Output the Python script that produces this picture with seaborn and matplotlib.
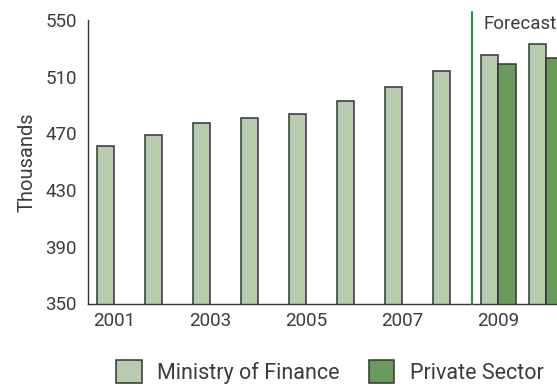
import matplotlib
matplotlib.use("Agg")
import matplotlib.pyplot as plt
from matplotlib.patches import Patch
import seaborn as sns
import pandas as pd

years = [2001, 2002, 2003, 2004, 2005, 2006, 2007, 2008, 2009, 2010]
ministry_finance = [461, 469, 477, 481, 484, 493, 503, 514, 525, 533]
private_sector_years = [2009, 2010]
private_sector = [519, 523]
tick_years = [2001, 2003, 2005, 2007, 2009]
y_ticks = [350, 390, 430, 470, 510, 550]

series_names = ["Ministry of Finance", "Private Sector"]
palette = {"Ministry of Finance": "#b7ccae", "Private Sector": "#6b9b5c"}

df = pd.concat([
    pd.DataFrame({"year": years, "value": ministry_finance, "source": series_names[0]}),
    pd.DataFrame({"year": private_sector_years, "value": private_sector, "source": series_names[1]}),
], ignore_index=True)
df["year"] = pd.Categorical(df["year"].astype(str), categories=[str(y) for y in years])

sns.set_style("white")
plt.rcParams["font.family"] = ["Roboto", "DejaVu Sans"]
text_color = "#3c3c3c"
fs = 13.5

fig = plt.figure(figsize=(5.57, 3.87), dpi=100)
W, H = 557, 387
ax = fig.add_axes([88 / W, (H - 303.5) / H, (W - 88) / W, (303.5 - 20) / H])

sns.barplot(data=df, x="year", y="value", hue="source", hue_order=series_names,
            palette=palette, width=0.73, dodge=True, edgecolor="#333333",
            linewidth=1.1, saturation=1, legend=False, ax=ax)

ax.set_ylim(350, 550)
ax.set_yticks(y_ticks)
ax.set_yticklabels([str(v) for v in y_ticks])
ax.set_xlim(-0.546, 9.225)
ax.set_xticks([years.index(y) for y in tick_years])
ax.set_xticklabels([str(y) for y in tick_years])
ax.tick_params(axis="both", length=0, labelsize=fs, colors=text_color)
ax.tick_params(axis="y", pad=8)
ax.tick_params(axis="x", pad=6)
ax.set_xlabel("")
ax.set_ylabel("Thousands", fontsize=14.5, color=text_color, labelpad=6)

for side in ["top", "right"]:
    ax.spines[side].set_visible(False)
for side in ["left", "bottom"]:
    ax.spines[side].set_color("#333333")
    ax.spines[side].set_linewidth(1.0)

# forecast divider between 2008 and 2009
split = 7.45
ax.plot([split, split], [350, 555.6], color="#3d8b3d", linewidth=1.6, clip_on=False, zorder=3)
ax.text(7.69, 547.2, "Forecast", fontsize=fs, color=text_color, va="center", ha="left")

handles = [Patch(facecolor=palette[n], edgecolor="#333333", linewidth=1.1, label=n) for n in series_names]
fig.legend(handles=handles, loc="center", bbox_to_anchor=(0.592, 0.039), ncol=2,
           frameon=False, fontsize=15.5, handlelength=1.2, handleheight=1.25,
           handletextpad=0.7, columnspacing=1.35, labelcolor=text_color)

fig.savefig("out.png", dpi=100)
